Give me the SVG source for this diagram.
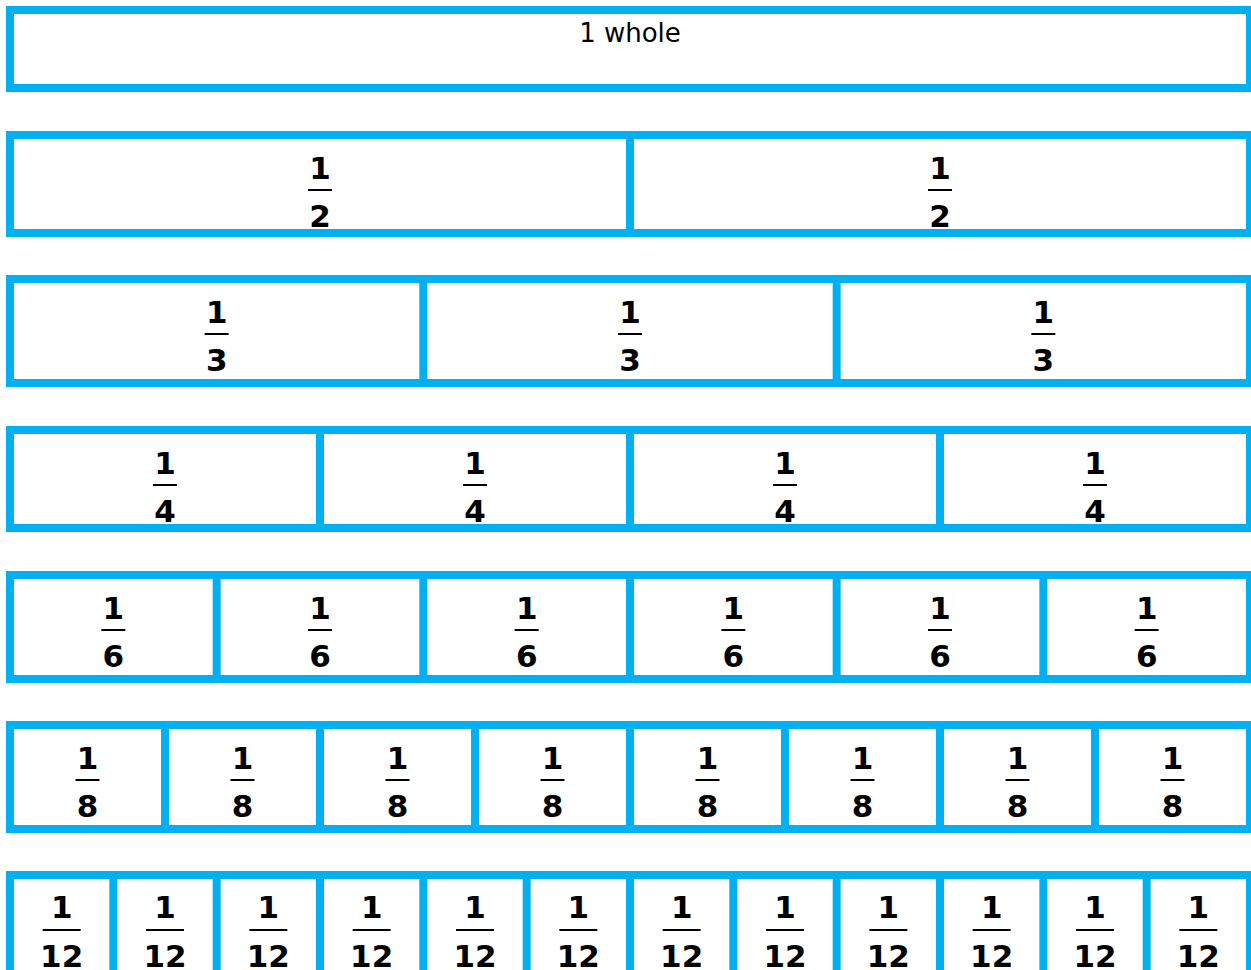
<svg xmlns="http://www.w3.org/2000/svg" width="1251" height="970" viewBox="0 0 1251 970">
<style>
.box{fill:#fff;stroke:#00B0F0;stroke-width:8}
.div{stroke:#00B0F0;stroke-width:8}
.num{font-family:"DejaVu Sans","Liberation Sans",sans-serif;font-size:31px;font-weight:bold;fill:#000;text-anchor:middle}
.bar{stroke:#000;stroke-width:2}
.lbl{font-family:"DejaVu Sans","Liberation Sans",sans-serif;font-size:26px;fill:#000;text-anchor:middle}
</style>
<rect width="1251" height="970" fill="#fff"/>
<g id="row-whole">
<rect class="box" x="10" y="10" width="1240" height="78"/>
<text class="lbl" x="630" y="42">1 whole</text>
</g>
<g id="row-halves">
<rect class="box" x="10" y="135" width="1240" height="98"/>
<line class="div" x1="630" y1="135" x2="630" y2="233"/>
<g id="half-1"><text class="num" x="320" y="179">1</text><line class="bar" x1="308" y1="190" x2="332" y2="190"/><text class="num" x="320" y="227">2</text></g>
<g id="half-2"><text class="num" x="940" y="179">1</text><line class="bar" x1="928" y1="190" x2="952" y2="190"/><text class="num" x="940" y="227">2</text></g>
</g>
<g id="row-thirds">
<rect class="box" x="10" y="279" width="1240" height="104"/>
<line class="div" x1="423.33" y1="279" x2="423.33" y2="383"/>
<line class="div" x1="836.67" y1="279" x2="836.67" y2="383"/>
<g id="third-1"><text class="num" x="216.67" y="323">1</text><line class="bar" x1="204.67" y1="334" x2="228.67" y2="334"/><text class="num" x="216.67" y="371">3</text></g>
<g id="third-2"><text class="num" x="630" y="323">1</text><line class="bar" x1="618" y1="334" x2="642" y2="334"/><text class="num" x="630" y="371">3</text></g>
<g id="third-3"><text class="num" x="1043.33" y="323">1</text><line class="bar" x1="1031.33" y1="334" x2="1055.33" y2="334"/><text class="num" x="1043.33" y="371">3</text></g>
</g>
<g id="row-quarters">
<rect class="box" x="10" y="430" width="1240" height="98"/>
<line class="div" x1="320" y1="430" x2="320" y2="528"/>
<line class="div" x1="630" y1="430" x2="630" y2="528"/>
<line class="div" x1="940" y1="430" x2="940" y2="528"/>
<g id="quarter-1"><text class="num" x="165" y="474">1</text><line class="bar" x1="153" y1="485" x2="177" y2="485"/><text class="num" x="165" y="522">4</text></g>
<g id="quarter-2"><text class="num" x="475" y="474">1</text><line class="bar" x1="463" y1="485" x2="487" y2="485"/><text class="num" x="475" y="522">4</text></g>
<g id="quarter-3"><text class="num" x="785" y="474">1</text><line class="bar" x1="773" y1="485" x2="797" y2="485"/><text class="num" x="785" y="522">4</text></g>
<g id="quarter-4"><text class="num" x="1095" y="474">1</text><line class="bar" x1="1083" y1="485" x2="1107" y2="485"/><text class="num" x="1095" y="522">4</text></g>
</g>
<g id="row-sixths">
<rect class="box" x="10" y="575" width="1240" height="104"/>
<line class="div" x1="216.67" y1="575" x2="216.67" y2="679"/>
<line class="div" x1="423.33" y1="575" x2="423.33" y2="679"/>
<line class="div" x1="630" y1="575" x2="630" y2="679"/>
<line class="div" x1="836.67" y1="575" x2="836.67" y2="679"/>
<line class="div" x1="1043.33" y1="575" x2="1043.33" y2="679"/>
<g id="sixth-1"><text class="num" x="113.33" y="619">1</text><line class="bar" x1="101.33" y1="630" x2="125.33" y2="630"/><text class="num" x="113.33" y="667">6</text></g>
<g id="sixth-2"><text class="num" x="320" y="619">1</text><line class="bar" x1="308" y1="630" x2="332" y2="630"/><text class="num" x="320" y="667">6</text></g>
<g id="sixth-3"><text class="num" x="526.67" y="619">1</text><line class="bar" x1="514.67" y1="630" x2="538.67" y2="630"/><text class="num" x="526.67" y="667">6</text></g>
<g id="sixth-4"><text class="num" x="733.33" y="619">1</text><line class="bar" x1="721.33" y1="630" x2="745.33" y2="630"/><text class="num" x="733.33" y="667">6</text></g>
<g id="sixth-5"><text class="num" x="940" y="619">1</text><line class="bar" x1="928" y1="630" x2="952" y2="630"/><text class="num" x="940" y="667">6</text></g>
<g id="sixth-6"><text class="num" x="1146.67" y="619">1</text><line class="bar" x1="1134.67" y1="630" x2="1158.67" y2="630"/><text class="num" x="1146.67" y="667">6</text></g>
</g>
<g id="row-eighths">
<rect class="box" x="10" y="725" width="1240" height="104"/>
<line class="div" x1="165" y1="725" x2="165" y2="829"/>
<line class="div" x1="320" y1="725" x2="320" y2="829"/>
<line class="div" x1="475" y1="725" x2="475" y2="829"/>
<line class="div" x1="630" y1="725" x2="630" y2="829"/>
<line class="div" x1="785" y1="725" x2="785" y2="829"/>
<line class="div" x1="940" y1="725" x2="940" y2="829"/>
<line class="div" x1="1095" y1="725" x2="1095" y2="829"/>
<g id="eighth-1"><text class="num" x="87.5" y="769">1</text><line class="bar" x1="75.5" y1="780" x2="99.5" y2="780"/><text class="num" x="87.5" y="817">8</text></g>
<g id="eighth-2"><text class="num" x="242.5" y="769">1</text><line class="bar" x1="230.5" y1="780" x2="254.5" y2="780"/><text class="num" x="242.5" y="817">8</text></g>
<g id="eighth-3"><text class="num" x="397.5" y="769">1</text><line class="bar" x1="385.5" y1="780" x2="409.5" y2="780"/><text class="num" x="397.5" y="817">8</text></g>
<g id="eighth-4"><text class="num" x="552.5" y="769">1</text><line class="bar" x1="540.5" y1="780" x2="564.5" y2="780"/><text class="num" x="552.5" y="817">8</text></g>
<g id="eighth-5"><text class="num" x="707.5" y="769">1</text><line class="bar" x1="695.5" y1="780" x2="719.5" y2="780"/><text class="num" x="707.5" y="817">8</text></g>
<g id="eighth-6"><text class="num" x="862.5" y="769">1</text><line class="bar" x1="850.5" y1="780" x2="874.5" y2="780"/><text class="num" x="862.5" y="817">8</text></g>
<g id="eighth-7"><text class="num" x="1017.5" y="769">1</text><line class="bar" x1="1005.5" y1="780" x2="1029.5" y2="780"/><text class="num" x="1017.5" y="817">8</text></g>
<g id="eighth-8"><text class="num" x="1172.5" y="769">1</text><line class="bar" x1="1160.5" y1="780" x2="1184.5" y2="780"/><text class="num" x="1172.5" y="817">8</text></g>
</g>
<g id="row-twelfths">
<rect class="box" x="10" y="875" width="1240" height="104"/>
<line class="div" x1="113.33" y1="875" x2="113.33" y2="979"/>
<line class="div" x1="216.67" y1="875" x2="216.67" y2="979"/>
<line class="div" x1="320" y1="875" x2="320" y2="979"/>
<line class="div" x1="423.33" y1="875" x2="423.33" y2="979"/>
<line class="div" x1="526.67" y1="875" x2="526.67" y2="979"/>
<line class="div" x1="630" y1="875" x2="630" y2="979"/>
<line class="div" x1="733.33" y1="875" x2="733.33" y2="979"/>
<line class="div" x1="836.67" y1="875" x2="836.67" y2="979"/>
<line class="div" x1="940" y1="875" x2="940" y2="979"/>
<line class="div" x1="1043.33" y1="875" x2="1043.33" y2="979"/>
<line class="div" x1="1146.67" y1="875" x2="1146.67" y2="979"/>
<g id="twelfth-1"><text class="num" x="61.67" y="918">1</text><line class="bar" x1="42.67" y1="930" x2="80.67" y2="930"/><text class="num" x="61.67" y="967">12</text></g>
<g id="twelfth-2"><text class="num" x="165" y="918">1</text><line class="bar" x1="146" y1="930" x2="184" y2="930"/><text class="num" x="165" y="967">12</text></g>
<g id="twelfth-3"><text class="num" x="268.33" y="918">1</text><line class="bar" x1="249.33" y1="930" x2="287.33" y2="930"/><text class="num" x="268.33" y="967">12</text></g>
<g id="twelfth-4"><text class="num" x="371.67" y="918">1</text><line class="bar" x1="352.67" y1="930" x2="390.67" y2="930"/><text class="num" x="371.67" y="967">12</text></g>
<g id="twelfth-5"><text class="num" x="475" y="918">1</text><line class="bar" x1="456" y1="930" x2="494" y2="930"/><text class="num" x="475" y="967">12</text></g>
<g id="twelfth-6"><text class="num" x="578.33" y="918">1</text><line class="bar" x1="559.33" y1="930" x2="597.33" y2="930"/><text class="num" x="578.33" y="967">12</text></g>
<g id="twelfth-7"><text class="num" x="681.67" y="918">1</text><line class="bar" x1="662.67" y1="930" x2="700.67" y2="930"/><text class="num" x="681.67" y="967">12</text></g>
<g id="twelfth-8"><text class="num" x="785" y="918">1</text><line class="bar" x1="766" y1="930" x2="804" y2="930"/><text class="num" x="785" y="967">12</text></g>
<g id="twelfth-9"><text class="num" x="888.33" y="918">1</text><line class="bar" x1="869.33" y1="930" x2="907.33" y2="930"/><text class="num" x="888.33" y="967">12</text></g>
<g id="twelfth-10"><text class="num" x="991.67" y="918">1</text><line class="bar" x1="972.67" y1="930" x2="1010.67" y2="930"/><text class="num" x="991.67" y="967">12</text></g>
<g id="twelfth-11"><text class="num" x="1095" y="918">1</text><line class="bar" x1="1076" y1="930" x2="1114" y2="930"/><text class="num" x="1095" y="967">12</text></g>
<g id="twelfth-12"><text class="num" x="1198.33" y="918">1</text><line class="bar" x1="1179.33" y1="930" x2="1217.33" y2="930"/><text class="num" x="1198.33" y="967">12</text></g>
</g>
</svg>
